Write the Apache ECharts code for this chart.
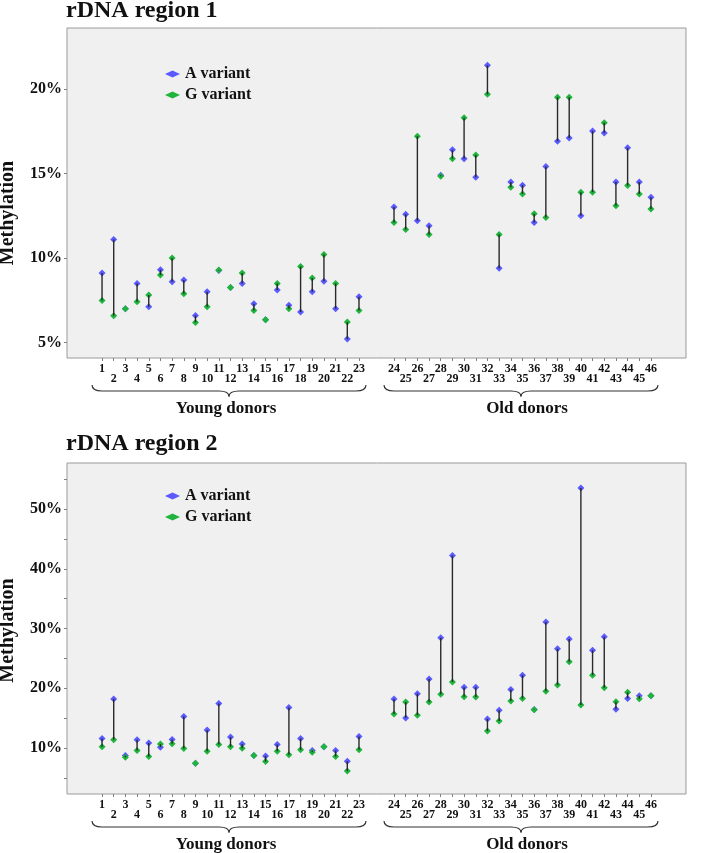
<!DOCTYPE html>
<html><head><meta charset="utf-8">
<script src="https://cdn.jsdelivr.net/npm/echarts@6/dist/echarts.min.js"></script>
<style>html,body{margin:0;padding:0;background:#fff}#c{width:709px;height:853px}</style>
</head><body><div id="c"></div>
<script>
// ---------- DATA ----------
const titles = ['rDNA region 1', 'rDNA region 2'];
const groupLabels = ['Young donors', 'Old donors'];
const seriesNames = ['A variant', 'G variant'];
const youngDonors = ['1','2','3','4','5','6','7','8','9','10','11','12','13','14','15','16','17','18','19','20','21','22','23'];
const oldDonors = ['24','25','26','27','28','29','30','31','32','33','34','35','36','37','38','39','40','41','42','43','44','45','46'];

const region1A = [9.11,11.1,7.0,8.5,7.12,9.31,8.6,8.7,6.6,8.01,9.27,8.26,8.5,7.3,6.35,8.11,7.2,6.8,8.01,8.62,7.0,5.21,7.71,
                  13.02,12.6,12.21,11.91,14.9,16.41,15.89,14.79,21.42,9.39,14.51,14.32,12.11,15.42,16.92,17.12,12.5,17.53,17.41,14.51,16.53,14.51,13.61];
const region1G = [7.49,6.59,7.0,7.41,7.81,8.99,10.0,7.89,6.19,7.12,9.3,8.26,9.11,6.9,6.35,8.5,7.0,9.5,8.82,10.21,8.5,6.21,6.9,
                  12.11,11.69,17.22,11.4,14.85,15.89,18.32,16.11,19.7,11.4,14.2,13.8,12.62,12.4,19.53,19.53,13.9,13.9,18.02,13.1,14.3,13.8,12.9];
const region2A = [11.6,18.2,8.73,11.4,10.82,10.14,11.44,15.26,7.44,13.0,17.46,11.83,10.65,8.73,8.68,10.6,16.78,11.6,9.58,10.2,9.58,7.78,11.94,
                  18.19,15.04,19.09,21.56,28.47,42.2,20.16,20.16,14.87,16.33,19.77,22.18,16.45,31.1,26.6,28.25,53.5,26.36,28.6,16.5,18.3,18.76,18.76];
const region2G = [10.2,11.4,8.45,9.58,8.56,10.65,10.7,9.92,7.44,9.47,10.6,10.2,9.97,8.73,7.72,9.47,8.85,9.69,9.3,10.2,8.56,6.14,9.69,
                  15.71,17.69,15.49,17.69,18.98,21.05,18.59,18.53,12.84,14.53,17.85,18.3,16.4,19.49,20.56,24.45,17.18,22.18,20.1,17.74,19.32,18.25,18.76];

const region1YTicks = [5, 10, 15, 20];
const region1YLabels = [5, 10, 15, 20];
const region1YRange = [4.08, 23.63];
const region2YTicks = [5, 10, 15, 20, 25, 30, 35, 40, 45, 50, 55];
const region2YLabels = [10, 20, 30, 40, 50];
const region2YRange = [2.3, 57.7];

// ---------- LAYOUT / STYLE ----------
const FONT = "'Liberation Serif', 'Times New Roman', serif";
const COLOR_A = '#5a5aff', COLOR_G = '#1fb43c';
const grids = [{ top: 28, height: 330, titleTop: -1, legendTop: 66 }, { top: 463, height: 331, titleTop: 432, legendTop: 488 }];
const GRID_LEFT = 67, GRID_RIGHT = 23;

// categories with spacer slots (edges and gap between groups)
const cats = [].concat(['_a0','_a1','_a2'], youngDonors, ['_b0','_b1'], oldDonors, ['_c0','_c1','_c2']);
const isDonor = v => !String(v).startsWith('_');
const rowOf = {};
youngDonors.forEach((d, i) => rowOf[d] = i % 2);
oldDonors.forEach((d, i) => rowOf[d] = i % 2);
const allDonors = youngDonors.concat(oldDonors);

function linkRender(params, api) {
  const p1 = api.coord([api.value(0), api.value(1)]);
  const p2 = api.coord([api.value(0), api.value(2)]);
  return { type: 'line', shape: { x1: p1[0], y1: p1[1], x2: p2[0], y2: p2[1] },
           style: { stroke: '#2a2a2a', lineWidth: 1.4 } };
}

// series use the first x axis of each grid (index 2k)
function buildSeries(k, A, G) {
  const xi = 2 * k;
  return [
    { type: 'scatter', name: seriesNames[0], xAxisIndex: xi, yAxisIndex: k, symbol: 'diamond', symbolSize: 7,
      itemStyle: { color: COLOR_A, opacity: 1 }, z: 2, data: allDonors.map((d, i) => [d, A[i]]) },
    { type: 'scatter', name: seriesNames[1], xAxisIndex: xi, yAxisIndex: k, symbol: 'diamond', symbolSize: 7,
      itemStyle: { color: COLOR_G, opacity: 1 }, z: 2, data: allDonors.map((d, i) => [d, G[i]]) },
    { type: 'custom', name: 'link', xAxisIndex: xi, yAxisIndex: k, z: 3, silent: true, renderItem: linkRender,
      encode: { x: 0, y: [1, 2] }, data: allDonors.map((d, i) => [d, A[i], G[i]]) }
  ];
}

// two category axes per grid: row 0 labels (with ticks) and row 1 labels (staggered lower)
const xAxisFor = (gridIndex, row) => ({
  type: 'category', gridIndex, data: cats, boundaryGap: false, position: 'bottom',
  axisLine: { show: false },
  axisTick: { show: row === 0, length: 3, interval: (i, v) => isDonor(v), lineStyle: { color: '#808080', width: 1 } },
  axisLabel: { interval: (i, v) => isDonor(v) && rowOf[v] === row, showMinLabel: true, showMaxLabel: true,
               margin: row === 0 ? 6 : 16, lineHeight: 10, fontSize: 12, fontWeight: 'bold',
               fontFamily: FONT, color: '#111',
               formatter: v => (isDonor(v) && rowOf[v] === row) ? v : '' },
  splitLine: { show: false }
});
const yAxisBase = (gridIndex, range, ticks, labels) => ({
  type: 'value', gridIndex, min: range[0], max: range[1],
  axisLine: { show: false }, splitLine: { show: false },
  axisTick: { show: true, length: 3, customValues: ticks, lineStyle: { color: '#808080' } },
  axisLabel: { customValues: labels, margin: 5, formatter: v => v + '%', fontSize: 16, fontWeight: 'bold',
               fontFamily: FONT, color: '#111' }
});
const legendBase = top => ({
  orient: 'vertical', left: 165, top: top, itemWidth: 15, itemHeight: 7, itemGap: 5, padding: 0,
  data: seriesNames, selectedMode: false,
  textStyle: { fontFamily: FONT, fontWeight: 'bold', fontSize: 16, color: '#111' }
});

const chart = echarts.init(document.getElementById('c'), null, { renderer: 'canvas' });
chart.setOption({
  backgroundColor: '#fff',
  animation: false,
  title: titles.map((t, k) => ({ text: t, left: 66, top: grids[k].titleTop, padding: 0,
    textStyle: { fontFamily: FONT, fontWeight: 'bold', fontSize: 24, color: '#111' } })),
  grid: grids.map(g => ({ left: GRID_LEFT, right: GRID_RIGHT, top: g.top, height: g.height, show: true,
    backgroundColor: '#f0f0f0', borderColor: '#9a9a9a', borderWidth: 1, containLabel: false, outerBoundsMode: 'none' })),
  legend: grids.map(g => legendBase(g.legendTop)),
  xAxis: [xAxisFor(0, 0), xAxisFor(0, 1), xAxisFor(1, 0), xAxisFor(1, 1)],
  yAxis: [yAxisBase(0, region1YRange, region1YTicks, region1YLabels),
          yAxisBase(1, region2YRange, region2YTicks, region2YLabels)],
  series: buildSeries(0, region1A, region1G).concat(buildSeries(1, region2A, region2G))
});

// ---------- annotations: braces, group labels, y-axis names ----------
const graphics = [];
grids.forEach((g, k) => {
  const B = g.top + g.height;
  graphics.push({ type: 'text', x: 8, y: g.top + g.height / 2 + (k === 0 ? 20 : 2), rotation: Math.PI / 2,
    style: { text: 'Methylation', align: 'center', verticalAlign: 'middle', font: 'bold 20px ' + FONT, fill: '#111' } });
  [youngDonors, oldDonors].forEach((grp, j) => {
    const xL = chart.convertToPixel({ xAxisIndex: 2 * k }, grp[0]) - 10;
    const xR = chart.convertToPixel({ xAxisIndex: 2 * k }, grp[grp.length - 1]) + 7;
    const xc = (xL + xR) / 2, r = 10;
    const y0 = B + 27, y1 = B + 33, y2 = B + 38.5;
    const st = { stroke: '#333', lineWidth: 1.2, fill: null };
    graphics.push(
      { type: 'bezierCurve', shape: { x1: xL, y1: y0, cpx1: xL, cpy1: y1, x2: xL + r, y2: y1 }, style: st },
      { type: 'line', shape: { x1: xL + r, y1: y1, x2: xc - r, y2: y1 }, style: st },
      { type: 'bezierCurve', shape: { x1: xc - r, y1: y1, cpx1: xc, cpy1: y1, x2: xc, y2: y2 }, style: st },
      { type: 'bezierCurve', shape: { x1: xc, y1: y2, cpx1: xc, cpy1: y1, x2: xc + r, y2: y1 }, style: st },
      { type: 'line', shape: { x1: xc + r, y1: y1, x2: xR - r, y2: y1 }, style: st },
      { type: 'bezierCurve', shape: { x1: xR - r, y1: y1, cpx1: xR, cpy1: y1, x2: xR, y2: y0 }, style: st },
      { type: 'text', x: xc + (j === 0 ? -3 : 6), y: B + 51,
        style: { text: groupLabels[j], align: 'center', verticalAlign: 'middle', font: 'bold 17px ' + FONT, fill: '#111' } }
    );
  });
});
chart.setOption({ graphic: graphics });
</script></body></html>
